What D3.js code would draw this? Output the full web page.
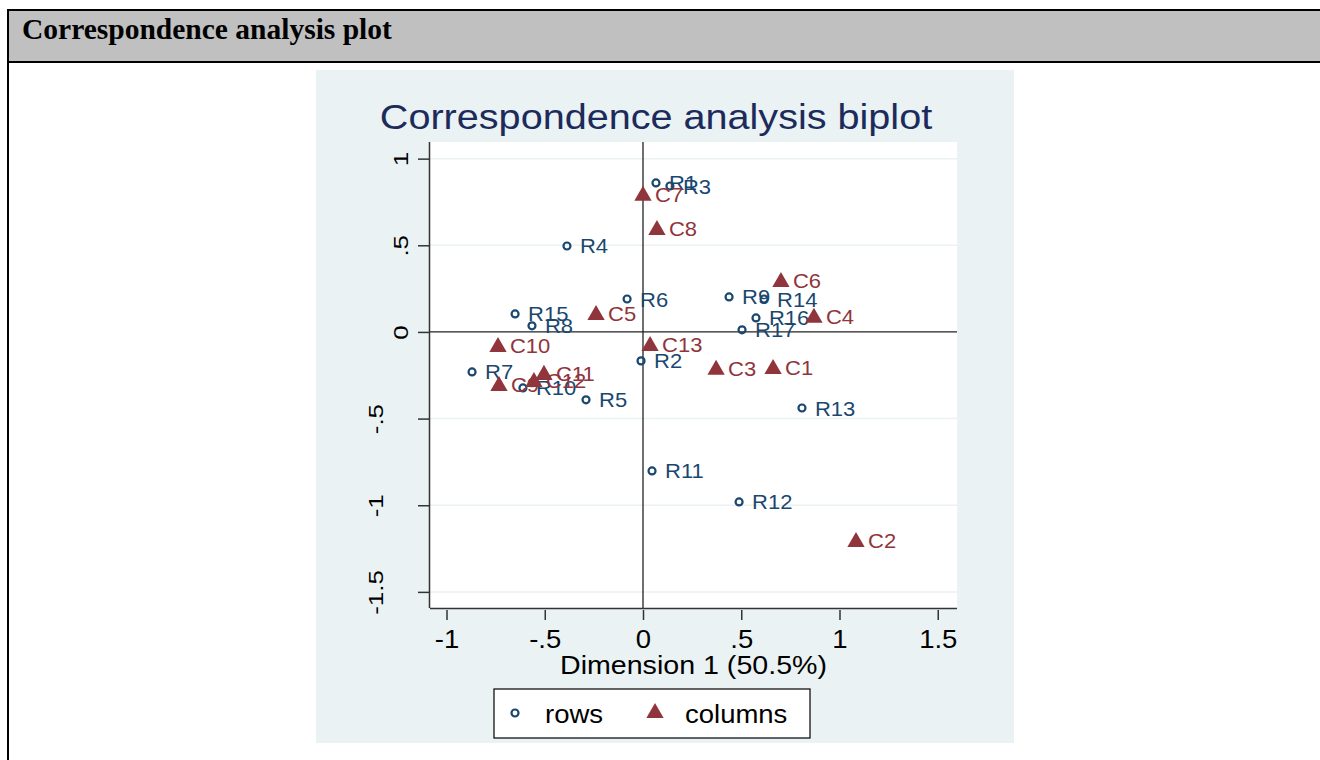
<!DOCTYPE html>
<html>
<head>
<meta charset="utf-8">
<script src="https://cdn.jsdelivr.net/npm/d3@7"></script>
<style>
html,body{margin:0;padding:0;background:#fff;}
svg{display:block;}
</style>
</head>
<body>
<svg id="chart" width="1320" height="760"></svg>
<script>
// ---- data ----
const rowLabels = ["R1","R3","R4","R6","R9","R14","R15","R8","R16","R17","R2","R7","R10","R5","R13","R11","R12"];
const rowDim1   = [0.066,0.137,-0.387,-0.081,0.438,0.616,-0.651,-0.565,0.575,0.504,-0.010,-0.870,-0.611,-0.290,0.809,0.046,0.489];
const rowDim2   = [0.860,0.842,0.496,0.190,0.202,0.190,0.104,0.035,0.081,0.012,-0.167,-0.231,-0.323,-0.392,-0.439,-0.802,-0.981];

const colLabels = ["C7","C8","C6","C5","C4","C10","C13","C3","C1","C11","C12","C9","C2"];
const colDim1   = [0.000,0.071,0.702,-0.239,0.870,-0.738,0.036,0.372,0.662,-0.504,-0.555,-0.733,1.084];
const colDim2   = [0.791,0.594,0.294,0.104,0.087,-0.081,-0.075,-0.213,-0.208,-0.242,-0.283,-0.306,-1.206];

const xTicks = [-1,-0.5,0,0.5,1,1.5];
const xTickLabels = ["-1","-.5","0",".5","1","1.5"];
const yTicks = [1,0.5,0,-0.5,-1,-1.5];
const yTickLabels = ["1",".5","0","-.5","-1","-1.5"];

const chartTitle = "Correspondence analysis biplot";
const headerTitle = "Correspondence analysis plot";
const xTitle = "Dimension 1 (50.5%)";
const legendLabels = ["rows","columns"];

// ---- styles ----
const ROW_COLOR = "#1a476f";
const COL_COLOR = "#90353b";
const BG = "#eaf2f3";
const FONT = "'Liberation Sans', Arial, sans-serif";
const SX = 1.1;

const svg = d3.select("#chart");

// header frame
svg.append("rect").attr("x",8).attr("y",10).attr("width",1330).attr("height",52)
  .attr("fill","#c0c0c0").attr("stroke","#000").attr("stroke-width",2);
svg.append("line").attr("x1",8).attr("x2",8).attr("y1",10).attr("y2",760)
  .attr("stroke","#000").attr("stroke-width",2);
svg.append("text").attr("x",22).attr("y",39).text(headerTitle)
  .attr("font-family","'Liberation Serif','Times New Roman',serif")
  .attr("font-weight","bold").attr("font-size",29.5).attr("fill","#000");

// graph background
svg.append("rect").attr("x",316).attr("y",70).attr("width",698).attr("height",673).attr("fill",BG);

// plot region
const PL = 430, PR = 957, PT = 142, PB = 608;
svg.append("rect").attr("x",PL).attr("y",PT).attr("width",PR-PL).attr("height",PB-PT).attr("fill","#fff");

const x = d3.scaleLinear().domain([-1.084, 1.598]).range([PL, PR]);
const y = d3.scaleLinear().domain([-1.593, 1.096]).range([PB, PT]);

// grid lines
svg.append("g").selectAll("line").data(yTicks.filter(d=>d!==0)).join("line")
  .attr("x1",PL).attr("x2",PR).attr("y1",d=>y(d)).attr("y2",d=>y(d))
  .attr("stroke",BG).attr("stroke-width",1.5);

// reference lines
svg.append("line").attr("x1",x(0)).attr("x2",x(0)).attr("y1",PT).attr("y2",PB)
  .attr("stroke","#222").attr("stroke-width",1.3);
svg.append("line").attr("x1",PL).attr("x2",PR).attr("y1",y(0)).attr("y2",y(0))
  .attr("stroke","#222").attr("stroke-width",1.3);

// axes
const xAxis = svg.append("g").attr("transform",`translate(0,${PB})`)
  .call(d3.axisBottom(x).tickValues(xTicks).tickFormat((d,i)=>xTickLabels[i]).tickSize(12).tickPadding(6));
xAxis.select(".domain").attr("d",`M${PL},0.5H${PR}`).attr("stroke","#333").attr("stroke-width",1.5);
xAxis.selectAll(".tick line").attr("stroke","#333").attr("stroke-width",1.5).attr("y1",2);
xAxis.selectAll(".tick text").attr("font-family",FONT).attr("font-size",25).attr("fill","#000")
  .attr("dy",null).attr("y",40).attr("transform",`scale(${SX},1)`);

const yAxis = svg.append("g").attr("transform",`translate(${PL},0)`)
  .call(d3.axisLeft(y).tickValues(yTicks).tickFormat((d,i)=>yTickLabels[i]).tickSize(12));
yAxis.select(".domain").attr("d",`M-0.5,${PT}V${PB}`).attr("stroke","#333").attr("stroke-width",1.5);
yAxis.selectAll(".tick line").attr("stroke","#333").attr("stroke-width",1.5);
yAxis.selectAll(".tick text").attr("font-family",FONT).attr("font-size",26).attr("fill","#000")
  .attr("x",null).attr("dy",null).attr("text-anchor","middle")
  .attr("transform",d=>`translate(${d<0 ? -47 : -22},0) rotate(-90) scale(1,0.8)`);

// axis title
svg.append("text").attr("transform",`translate(${(PL+PR)/2},674) scale(${SX},1)`)
  .attr("text-anchor","middle").attr("font-family",FONT).attr("font-size",26).text(xTitle);

// title
svg.append("text").attr("transform",`translate(656,129) scale(${SX},1)`)
  .attr("text-anchor","middle").attr("font-family",FONT).attr("font-size",36)
  .attr("fill","#1c2b5b").text(chartTitle);

// markers
const tri = d3.symbol().type(d3.symbolTriangle).size(130);
const rows = rowLabels.map((l,i)=>({l, a:rowDim1[i], b:rowDim2[i]}));
const cols = colLabels.map((l,i)=>({l, a:colDim1[i], b:colDim2[i]}));

const gRows = svg.append("g");
gRows.selectAll("circle").data(rows).join("circle")
  .attr("cx",d=>x(d.a)).attr("cy",d=>y(d.b)).attr("r",3.5)
  .attr("fill","none").attr("stroke",ROW_COLOR).attr("stroke-width",2.2);
gRows.selectAll("text").data(rows).join("text")
  .attr("transform",d=>`translate(${x(d.a)+13},${y(d.b)+7.5}) scale(${SX},1)`)
  .attr("font-family",FONT).attr("font-size",20).attr("fill",ROW_COLOR).text(d=>d.l);

const gCols = svg.append("g");
gCols.selectAll("path").data(cols).join("path")
  .attr("d",tri).attr("transform",d=>`translate(${x(d.a)},${y(d.b)+1})`)
  .attr("fill",COL_COLOR);
gCols.selectAll("text").data(cols).join("text")
  .attr("transform",d=>`translate(${x(d.a)+12},${y(d.b)+7.5}) scale(${SX},1)`)
  .attr("font-family",FONT).attr("font-size",20).attr("fill",COL_COLOR).text(d=>d.l);

// legend
const lg = svg.append("g");
lg.append("rect").attr("x",494).attr("y",689).attr("width",316).attr("height",49)
  .attr("fill","#fff").attr("stroke","#000").attr("stroke-width",1.2);
lg.append("circle").attr("cx",515).attr("cy",713).attr("r",3.5)
  .attr("fill","none").attr("stroke",ROW_COLOR).attr("stroke-width",2.2);
lg.append("text").attr("transform",`translate(545,723) scale(${SX},1)`)
  .attr("font-family",FONT).attr("font-size",25).text(legendLabels[0]);
lg.append("path").attr("d",tri).attr("transform","translate(655,713)").attr("fill",COL_COLOR);
lg.append("text").attr("transform",`translate(685,723) scale(${SX},1)`)
  .attr("font-family",FONT).attr("font-size",25).text(legendLabels[1]);
</script>
</body>
</html>
